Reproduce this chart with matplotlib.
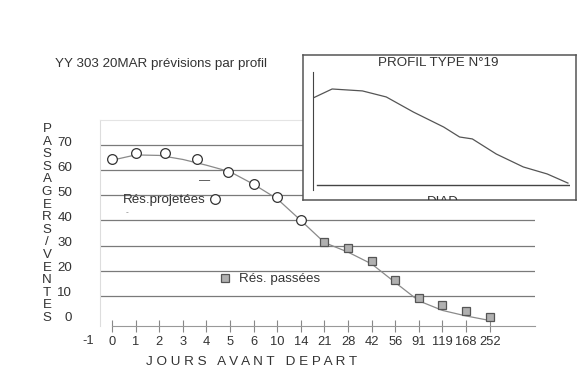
import numpy as np
import matplotlib.pyplot as plt
from matplotlib.lines import Line2D
import matplotlib.transforms as mtransforms

plt.rcParams['font.family'] = ['Liberation Sans', 'DejaVu Sans']

# --- DATA ---
jours = ['0', '1', '2', '3', '4', '5', '6', '10', '14', '21', '28', '42',
         '56', '91', '119', '168', '252']
courbe = [64, 66.1, 65.9, 64.3, 62, 59.4, 54.4, 48.6, 40, 31.2, 27.4, 22.7,
          15.3, 8.0, 4.2, 2.0, 0.2]
proj_pos = [0, 1, 2.25, 3.6, 4.93, 6, 7, 8]
proj_val = [64.3, 66.8, 66.9, 64.3, 59.4, 54.5, 49.3, 40]
pass_pos = [9, 10, 11, 12, 13, 14, 15, 16]
pass_val = [31.5, 29, 24, 16.4, 9, 6.5, 3.9, 1.4]
y_ticks = [0, 10, 20, 30, 40, 50, 60, 70]
y_label = 'PASSAGERS/VENTES'

# inset "profil type" curve
prof_pos = [0, 1.2, 3.1, 4.6, 6.3, 8.2, 9.2, 10, 11.5, 13.2, 14.7, 16]
prof_val = [90.6, 100, 98, 91.7, 76, 60.4, 50, 48, 32.3, 18.8, 11.5, 2]

W, H = 588, 381
ink = '#333333'
fs = 9.6
fig = plt.figure(figsize=(W / 100, H / 100), dpi=100)

# --- MAIN CHART ---
ax = fig.add_axes([100 / W, 1 - 326 / H, 435 / W, 206 / H])
x = np.arange(len(jours))
ax.set_xlim(-0.51, 17.92)
ax.set_ylim(-2, 80)

for v in y_ticks[1:]:
    ax.axhline(v, color='#7a7a7a', lw=0.9, zorder=1)

ax.plot(x, courbe, color='#8a8a8a', lw=0.9, zorder=2)
ax.plot(proj_pos, proj_val, 'o', ms=7, mfc='white', mec=ink, mew=0.9, zorder=3)
ax.plot(pass_pos, pass_val, 's', ms=5.5, mfc='#b0b0b0', mec='#555555', mew=0.9, zorder=3)

ax.set_xticks(x)
ax.set_xticklabels(jours, fontsize=9.3, color=ink)
ax.tick_params(axis='x', direction='inout', length=8, width=0.8, color='#888888', pad=3)
ax.set_yticks(y_ticks)
ax.set_yticklabels([str(v) for v in y_ticks], fontsize=fs, color=ink)
ax.tick_params(axis='y', length=0, pad=20)
up = mtransforms.ScaledTranslation(0, 4 / 100, fig.dpi_scale_trans)
for lab in ax.get_yticklabels():
    lab.set_transform(lab.get_transform() + up)

ax.spines['right'].set_visible(False)
ax.spines['bottom'].set_color('#999999')
ax.spines['bottom'].set_bounds(0, 17.92)
ax.spines['left'].set_color('#dddddd')
ax.spines['top'].set_color('#e4e4e4')
down = mtransforms.ScaledTranslation(0, -9 / 100, fig.dpi_scale_trans)
ax.text(-1, 0, '-1', transform=ax.get_xaxis_transform() + down, fontsize=9.3,
        color=ink, ha='center', va='top', clip_on=False)

# legends written beside the points
leg1 = ax.legend([Line2D([], [], marker='o', ls='', ms=7, mfc='white', mec=ink, mew=0.9)],
                 ['Rés.projetées'], loc='center left', bbox_to_anchor=(123 / W, 1 - 200 / H),
                 bbox_transform=fig.transFigure, frameon=False, markerfirst=False,
                 fontsize=fs, borderpad=0, borderaxespad=0, handlelength=1, handletextpad=0.2)
for t in leg1.get_texts():
    t.set_color(ink)
ax.add_artist(leg1)
leg2 = ax.legend([Line2D([], [], marker='s', ls='', ms=5.5, mfc='#b0b0b0', mec='#555555', mew=0.9)],
                 ['Rés. passées'], loc='center left', bbox_to_anchor=(218 / W, 1 - 279 / H),
                 bbox_transform=fig.transFigure, frameon=False,
                 fontsize=fs, borderpad=0, borderaxespad=0, handlelength=1, handletextpad=0.6)
for t in leg2.get_texts():
    t.set_color(ink)

# stray dashes from the scan
fig.text(205 / W, 1 - 180 / H, '—', fontsize=8, color=ink, ha='center', va='center')
fig.text(127 / W, 1 - 213 / H, '-', fontsize=6, color='#777777', ha='center', va='center')

# vertical stacked y label
for i, ch in enumerate(y_label):
    fig.text(47 / W, 1 - (129 + i * 12.6) / H, ch, fontsize=fs, color=ink,
             ha='center', va='center')

fig.text(55 / W, 1 - 64 / H, 'YY 303 20MAR prévisions par profil', fontsize=fs,
         color=ink, ha='left', va='center')
fig.text(252 / W, 1 - 362 / H, 'J O U R S   A V A N T   D E P A R T', fontsize=9.7,
         color=ink, ha='center', va='center')

# --- INSET: PROFIL TYPE ---
box = fig.add_axes([303 / W, 1 - 200 / H, 273 / W, 145 / H])
box.set_xticks([])
box.set_yticks([])
for s in box.spines.values():
    s.set_color('#555555')
    s.set_linewidth(1.1)
box.text((438 - 303) / 273, (200 - 63) / 145, 'PROFIL TYPE N°19', transform=box.transAxes,
         fontsize=fs, color=ink, ha='center', va='center')
box.text((443 - 303) / 273, (200 - 205) / 145, 'DIAD', transform=box.transAxes,
         fontsize=fs, color=ink, ha='center', va='baseline', clip_on=True)

ins = fig.add_axes([313 / W, 1 - 190 / H, 257 / W, 118 / H])
ins.patch.set_alpha(0)
ins.set_xlim(0, 16.13)
ins.set_ylim(-5.2, 117.7)
ins.plot(prof_pos, prof_val, color='#555555', lw=0.9)
ins.axhline(0, xmin=4 / 257, color='#444444', lw=1)
ins.set_xticks([])
ins.set_yticks([])
for s in ['top', 'right', 'bottom']:
    ins.spines[s].set_visible(False)
ins.spines['left'].set_color('#444444')

plt.savefig('out.png', dpi=100)
